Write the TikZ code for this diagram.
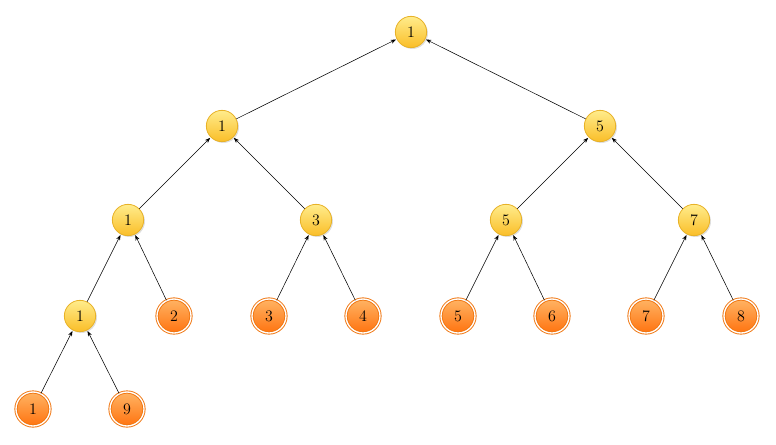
\documentclass[tikz,border=0pt]{standalone}
\usetikzlibrary{shadows,arrows.meta}
\definecolor{inbord}{RGB}{232,178,40}
\definecolor{intop}{RGB}{255,236,140}
\definecolor{inbot}{RGB}{250,190,40}
\definecolor{lfbord}{RGB}{240,120,20}
\definecolor{lftop}{RGB}{255,180,100}
\definecolor{lfbot}{RGB}{255,115,15}
\tikzset{
  inner/.style={circle, minimum size=23.5pt, inner sep=0pt, draw=inbord, line width=0.6pt, font=\large,
    top color=intop, bottom color=inbot, drop shadow={opacity=0.25,shadow xshift=1pt,shadow yshift=-1pt}},
  leaf/.style={circle, minimum size=25.5pt, inner sep=0pt, draw=lfbord, double=white, double distance=1pt, line width=0.7pt, font=\large,
    top color=lftop, bottom color=lfbot},
  edge/.style={-{Stealth[length=4pt,width=3pt]}, line width=0.4pt, shorten >=0.5pt}
}
\begin{document}
\begin{tikzpicture}[x=0.75pt,y=-0.75pt]
\useasboundingbox (0,0) rectangle (776,444);
\node[inner] (r) at (411,32) {1};
\node[inner] (a) at (222,126) {1};
\node[inner] (b) at (600,126) {5};
\node[inner] (aa) at (128,220) {1};
\node[inner] (ab) at (316,220) {3};
\node[inner] (ba) at (506,220) {5};
\node[inner] (bb) at (694,220) {7};
\node[inner] (aaa) at (80,316) {1};
\node[leaf] (l2) at (174,316) {2};
\node[leaf] (l3) at (269,316) {3};
\node[leaf] (l4) at (363,316) {4};
\node[leaf] (l5) at (458,316) {5};
\node[leaf] (l6) at (552,316) {6};
\node[leaf] (l7) at (646,316) {7};
\node[leaf] (l8) at (741,316) {8};
\node[leaf] (l1) at (33,409) {1};
\node[leaf] (l9) at (127,409) {9};
\draw[edge] (a) -- (r);
\draw[edge] (b) -- (r);
\draw[edge] (aa) -- (a);
\draw[edge] (ab) -- (a);
\draw[edge] (ba) -- (b);
\draw[edge] (bb) -- (b);
\draw[edge] (aaa) -- (aa);
\draw[edge] (l2) -- (aa);
\draw[edge] (l3) -- (ab);
\draw[edge] (l4) -- (ab);
\draw[edge] (l5) -- (ba);
\draw[edge] (l6) -- (ba);
\draw[edge] (l7) -- (bb);
\draw[edge] (l8) -- (bb);
\draw[edge] (l1) -- (aaa);
\draw[edge] (l9) -- (aaa);
\end{tikzpicture}
\end{document}
